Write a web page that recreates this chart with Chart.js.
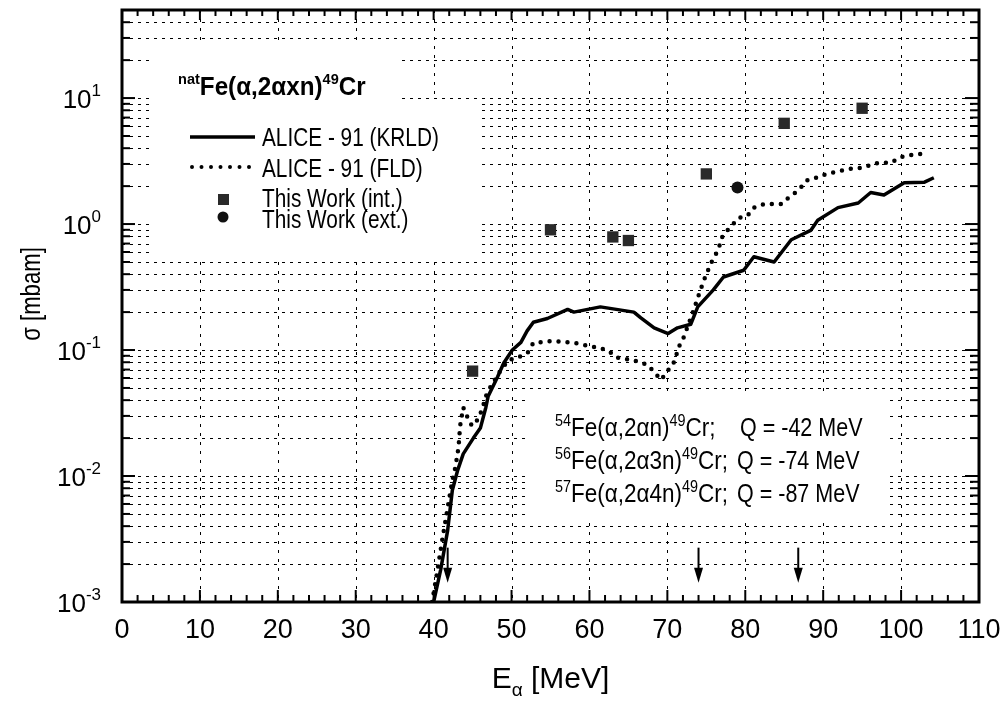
<!DOCTYPE html>
<html>
<head>
<meta charset="utf-8">
<title>natFe(a,2axn)49Cr excitation function</title>
<script src="https://cdn.jsdelivr.net/npm/chart.js@4.4.1/dist/chart.umd.min.js"></script>
<style>
    html, body { margin: 0; padding: 0; background: #fff; }
    #wrap { width: 1006px; height: 701px; }
</style>
</head>
<body>
<div id="wrap"><canvas id="xsChart" width="1006" height="701"></canvas></div>
<script>
// ALICE-91 with KRLD level density (solid curve)
const krldE = [40.0, 40.9, 41.8, 42.4, 43.1, 43.8, 45.1, 46.0, 46.7, 47.0, 48.2, 49.0, 50.1, 51.2, 52.0, 52.8,
    54.6, 57.2, 58.0, 61.4, 65.7, 66.6, 68.3, 70.1, 71.3, 73.0, 73.9, 75.9, 77.2, 79.8, 81.1, 83.7, 85.9,
    88.4, 89.3, 91.9, 94.5, 96.1, 97.8, 100.4, 103.0, 104.2];
const krldSigma = [0.001, 0.0018, 0.0037, 0.0077, 0.0112, 0.015, 0.020, 0.024, 0.035, 0.043, 0.061, 0.079, 0.100, 0.115, 0.142, 0.166,
    0.178, 0.21, 0.20, 0.22, 0.20, 0.18, 0.15, 0.135, 0.15, 0.16, 0.22, 0.30, 0.38, 0.43, 0.55, 0.50, 0.75,
    0.89, 1.07, 1.35, 1.47, 1.78, 1.70, 2.13, 2.15, 2.33];

// ALICE-91 with Fermi-gas level density (dotted curve)
const fldE = [39.8, 40.5, 41.1, 41.8, 42.4, 42.8, 43.2, 43.4, 43.8, 44.7, 45.1, 45.8, 46.3, 46.7, 47.3, 48.6, 49.6,
    50.8, 52.1, 52.8, 55.4, 58.0, 60.2, 62.3, 63.6, 65.7, 67.5, 69.2, 70.1, 70.8, 71.7, 72.1, 73.4, 73.9, 74.7,
    75.6, 76.5, 77.1, 78.1, 79.2, 80.3, 81.1, 82.4, 84.6, 85.6, 86.8, 88.0, 89.3, 90.4, 92.7, 94.0, 95.2, 96.4,
    97.4, 98.7, 100.0, 101.0, 102.2, 103.5];
const fldSigma = [0.001, 0.0018, 0.0031, 0.0056, 0.0093, 0.0118, 0.017, 0.025, 0.035, 0.026, 0.025, 0.029, 0.035, 0.043, 0.051, 0.069, 0.083,
    0.087, 0.096, 0.114, 0.118, 0.114, 0.107, 0.100, 0.087, 0.083, 0.076, 0.058, 0.069, 0.079, 0.115, 0.126, 0.21, 0.26, 0.36,
    0.49, 0.62, 0.81, 0.95, 1.12, 1.17, 1.35, 1.44, 1.44, 1.63, 1.85, 2.24, 2.35, 2.5, 2.69, 2.78, 2.8, 3.0,
    3.07, 3.07, 3.4, 3.5, 3.6, 3.6];

// Measured cross sections
const intE = [45, 55, 63, 65, 75, 85, 95];
const intSigma = [0.068, 0.90, 0.79, 0.74, 2.5, 6.3, 8.3];
const extE = [79];
const extSigma = [1.95];

// Reaction thresholds (arrows above the x axis)
const thresholdE = [41.8, 74.0, 86.8];
const arrowFrom = 0.0027;
const arrowTo = 0.00142;

// Axes
const xMin = 0, xMax = 110, xStep = 10, xMinorStep = 2;
const yMin = 0.001, yMax = 50;
const yDecades = [-3, -2, -1, 0, 1];

const reactions = [
    { text: '^{54}Fe(α,2αn)^{49}Cr;', q: 'Q = -42 MeV' },
    { text: '^{56}Fe(α,2α3n)^{49}Cr;', q: 'Q = -74 MeV' },
    { text: '^{57}Fe(α,2α4n)^{49}Cr;', q: 'Q = -87 MeV' }
];

const FONT = '"Liberation Sans", Arial, Helvetica, sans-serif';

function toPoints(xs, ys) {
    return xs.map((v, i) => ({ x: v, y: ys[i] }));
}

// small markup: ^{..} superscript, _{..} subscript
function parseRich(str) {
    const parts = [];
    const re = /\^\{([^}]*)\}|_\{([^}]*)\}|([^^_]+)/g;
    let m;
    while ((m = re.exec(str))) {
        if (m[1] !== undefined) parts.push({ t: m[1], k: 'sup' });
        else if (m[2] !== undefined) parts.push({ t: m[2], k: 'sub' });
        else parts.push({ t: m[3], k: '' });
    }
    return parts;
}

function drawRich(ctx, str, x, y, o) {
    const sx = o.sx || 1;
    const parts = parseRich(str);
    let w = 0;
    parts.forEach(p => {
        p.fs = p.k ? o.small : o.size;
        ctx.font = (o.bold ? 'bold ' : '') + p.fs + 'px ' + FONT;
        p.x = w;
        w += ctx.measureText(p.t).width;
    });
    let x0 = x;
    if (o.align === 'right') x0 = x - w * sx;
    else if (o.align === 'center') x0 = x - w * sx / 2;
    ctx.save();
    ctx.translate(x0, y);
    ctx.scale(sx, 1);
    ctx.fillStyle = '#000';
    ctx.textAlign = 'left';
    ctx.textBaseline = 'alphabetic';
    parts.forEach(p => {
        ctx.font = (o.bold ? 'bold ' : '') + p.fs + 'px ' + FONT;
        const dy = p.k === 'sup' ? -o.rise : (p.k === 'sub' ? o.drop : 0);
        ctx.fillText(p.t, p.x, dy);
    });
    ctx.restore();
}

function seg(ctx, x1, y1, x2, y2) {
    ctx.beginPath();
    ctx.moveTo(x1, y1);
    ctx.lineTo(x2, y2);
    ctx.stroke();
}

function logValues() {
    const vals = [];
    yDecades.forEach(e => {
        for (let m = 1; m <= 9; m++) {
            const v = m * Math.pow(10, e);
            if (v >= yMin * 0.999 && v <= yMax * 1.001) vals.push({ v, major: m === 1 });
        }
    });
    return vals;
}

// white panels behind the title, legend and reaction list
const panels = [
    [153, 45, 397, 100],
    [153, 100, 477, 257],
    [527, 393, 887, 519]
];

const axisDecor = {
    id: 'axisDecor',
    beforeDatasetsDraw(chart) {
        const { ctx, chartArea: a, scales: { x, y } } = chart;
        ctx.save();
        ctx.strokeStyle = '#000';
        ctx.lineWidth = 1;
        ctx.setLineDash([3, 5]);
        logValues().forEach(t => {
            const py = Math.round(y.getPixelForValue(t.v)) + 0.5;
            if (py <= a.top + 2 || py >= a.bottom - 2) return;
            seg(ctx, a.left, py, a.right, py);
        });
        ctx.setLineDash([3, 6]);
        for (let v = xMin + xStep; v < xMax; v += xStep) {
            const px = Math.round(x.getPixelForValue(v)) + 0.5;
            seg(ctx, px, a.top, px, a.bottom);
        }
        ctx.setLineDash([]);
        ctx.fillStyle = '#fff';
        panels.forEach(b => ctx.fillRect(b[0], b[1], b[2] - b[0], b[3] - b[1]));
        ctx.restore();
    },
    afterDatasetsDraw(chart) {
        const { ctx, chartArea: a, scales: { x, y } } = chart;
        ctx.save();
        ctx.strokeStyle = '#000';
        ctx.fillStyle = '#000';

        // ticks
        ctx.lineWidth = 2;
        for (let v = xMin; v <= xMax; v += xMinorStep) {
            const px = x.getPixelForValue(v);
            const major = v % xStep === 0;
            seg(ctx, px, a.bottom, px, a.bottom - (major ? 12 : 7));
            seg(ctx, px, a.top, px, a.top + (major ? 10 : 6));
        }
        logValues().forEach(t => {
            const py = y.getPixelForValue(t.v);
            seg(ctx, a.left, py, a.left + (t.major ? 13 : 8), py);
            seg(ctx, a.right, py, a.right - (t.major ? 14 : 9), py);
        });

        // frame
        ctx.lineWidth = 3;
        ctx.strokeRect(a.left, a.top, a.right - a.left, a.bottom - a.top);

        // threshold arrows
        ctx.lineWidth = 2;
        thresholdE.forEach(e => {
            const px = x.getPixelForValue(e);
            const y1 = y.getPixelForValue(arrowFrom);
            const y2 = y.getPixelForValue(arrowTo);
            seg(ctx, px, y1, px, y2 - 12);
            ctx.beginPath();
            ctx.moveTo(px - 4.5, y2 - 15);
            ctx.lineTo(px + 4.5, y2 - 15);
            ctx.lineTo(px, y2);
            ctx.closePath();
            ctx.fill();
        });
        ctx.restore();
    },
    afterDraw(chart) {
        const { ctx, chartArea: a, scales: { x, y } } = chart;
        ctx.save();

        // x tick labels
        for (let v = xMin; v <= xMax; v += xStep) {
            drawRich(ctx, String(v), x.getPixelForValue(v), a.bottom + 36, { size: 27, small: 17, align: 'center' });
        }
        // y tick labels
        yDecades.forEach(e => {
            const py = y.getPixelForValue(Math.pow(10, e));
            drawRich(ctx, '10^{' + e + '}', 101, py + 10, { size: 26, small: 17, rise: 12, align: 'right' });
        });

        // axis titles
        drawRich(ctx, 'E_{α} [MeV]', x.getPixelForValue((xMin + xMax) / 2), 688,
            { size: 30, small: 19, drop: 8, align: 'center' });
        ctx.save();
        ctx.translate(40, 294);
        ctx.rotate(-Math.PI / 2);
        drawRich(ctx, 'σ [mbam]', 0, 0, { size: 27, small: 16, align: 'center', sx: 0.82 });
        ctx.restore();

        // title
        drawRich(ctx, '^{nat}Fe(α,2αxn)^{49}Cr', 178, 95, { size: 25, small: 15, rise: 11, bold: true, sx: 0.97 });

        // legend
        ctx.strokeStyle = '#000';
        ctx.lineWidth = 3.5;
        seg(ctx, 190, 137, 255, 137);
        ctx.lineWidth = 4;
        ctx.lineCap = 'round';
        ctx.setLineDash([0, 9.5]);
        seg(ctx, 192, 167, 255, 167);
        ctx.setLineDash([]);
        ctx.lineCap = 'butt';
        ctx.fillStyle = '#2a2a2a';
        ctx.fillRect(218, 194, 11, 11);
        ctx.fillStyle = '#111';
        ctx.beginPath();
        ctx.arc(223, 217, 5.5, 0, Math.PI * 2);
        ctx.fill();
        const lg = { size: 26, small: 16, sx: 0.8 };
        drawRich(ctx, 'ALICE - 91 (KRLD)', 262, 146, lg);
        drawRich(ctx, 'ALICE - 91 (FLD)', 262, 177, lg);
        drawRich(ctx, 'This Work (int.)', 262, 207, lg);
        drawRich(ctx, 'This Work (ext.)', 262, 228, lg);

        // reaction channels
        const rq = { size: 25, small: 16, rise: 10, sx: 0.9 };
        reactions.forEach((r, i) => {
            const base = 436 + i * 33;
            drawRich(ctx, r.text, 555, base, rq);
            drawRich(ctx, r.q, i === 0 ? 740 : 737, base, { size: 25, small: 16, sx: 0.86 });
        });
        ctx.restore();
    }
};

new Chart(document.getElementById('xsChart'), {
    type: 'scatter',
    data: {
        datasets: [
            {
                label: 'ALICE - 91 (KRLD)',
                data: toPoints(krldE, krldSigma),
                showLine: true,
                borderColor: '#000',
                borderWidth: 3.5,
                borderJoinStyle: 'round',
                pointRadius: 0,
                tension: 0
            },
            {
                label: 'ALICE - 91 (FLD)',
                data: toPoints(fldE, fldSigma),
                showLine: true,
                borderColor: '#000',
                borderWidth: 4.5,
                borderDash: [0, 9],
                borderCapStyle: 'round',
                pointRadius: 0,
                tension: 0
            },
            {
                label: 'This Work (int.)',
                data: toPoints(intE, intSigma),
                pointStyle: 'rect',
                pointRadius: 8,
                backgroundColor: '#2a2a2a',
                borderWidth: 0
            },
            {
                label: 'This Work (ext.)',
                data: toPoints(extE, extSigma),
                pointStyle: 'circle',
                pointRadius: 6,
                backgroundColor: '#111',
                borderWidth: 0
            }
        ]
    },
    options: {
        responsive: false,
        animation: false,
        devicePixelRatio: 1,
        layout: { padding: { top: 10, right: 27, left: 0, bottom: 0 } },
        plugins: {
            legend: { display: false },
            tooltip: { enabled: false }
        },
        scales: {
            x: {
                type: 'linear',
                min: xMin,
                max: xMax,
                grid: { display: false },
                border: { display: false },
                ticks: { display: false },
                afterFit(scale) { scale.height = 99; }
            },
            y: {
                type: 'logarithmic',
                min: yMin,
                max: yMax,
                grid: { display: false },
                border: { display: false },
                ticks: { display: false },
                afterFit(scale) { scale.width = 122; }
            }
        }
    },
    plugins: [axisDecor]
});
</script>
</body>
</html>
